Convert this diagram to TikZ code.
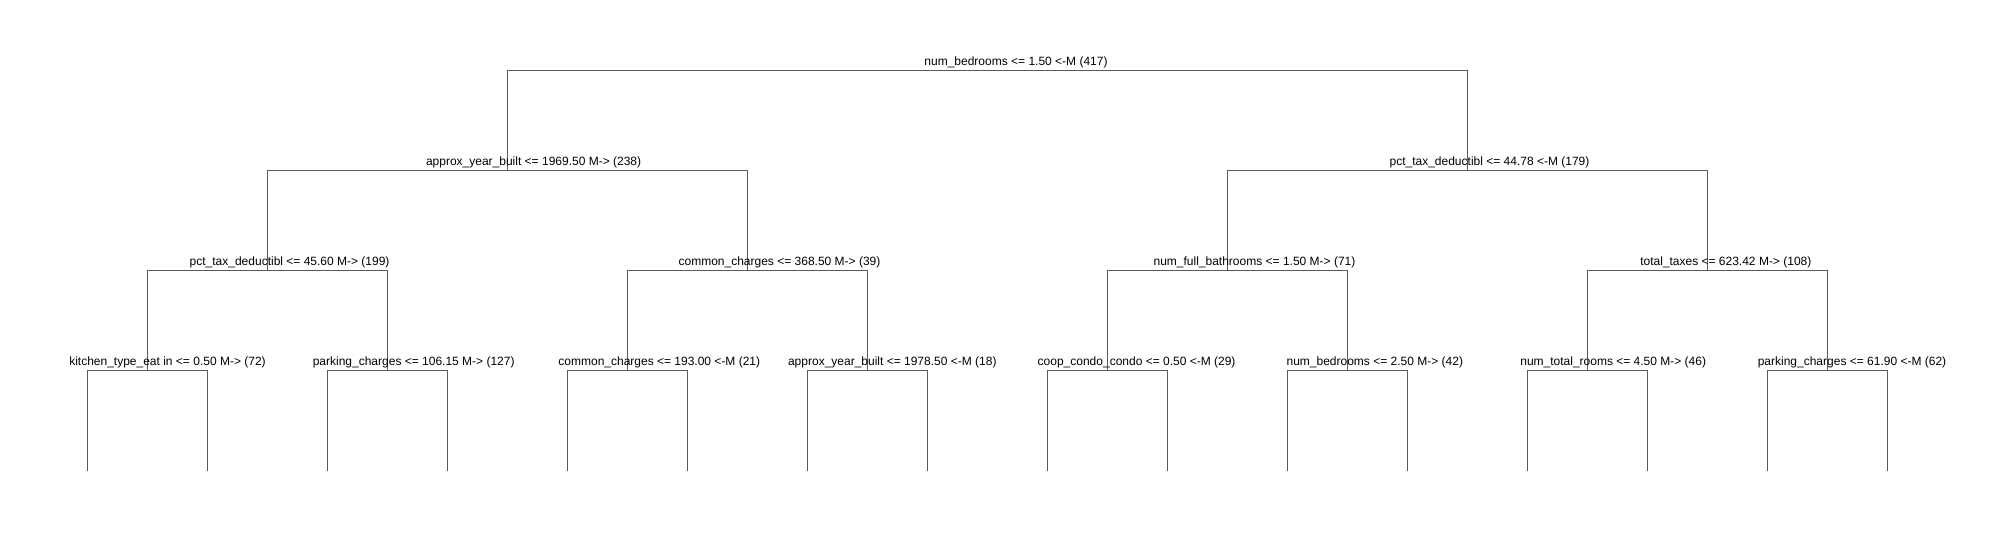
\documentclass[tikz,border=0pt]{standalone}
\usepackage{fontspec}
\setmainfont{Liberation Sans}
\definecolor{edgegray}{RGB}{90,90,90}
\begin{document}
\begin{tikzpicture}[x=1bp,y=-1bp,
  edge/.style={draw=edgegray,line width=1bp},
  lbl/.style={anchor=base,inner sep=0pt,outer sep=0pt,font=\fontsize{12bp}{14bp}\selectfont}]
\useasboundingbox (0,0) rectangle (2016,540);
% tree node positions
\coordinate (n0) at (987.5,70.5);
\coordinate (n1) at (507.5,170.5);
\coordinate (n2) at (1467.5,170.5);
\coordinate (n3) at (267.5,270.5);
\coordinate (n4) at (747.5,270.5);
\coordinate (n5) at (1227.5,270.5);
\coordinate (n6) at (1707.5,270.5);
\coordinate (n7) at (147.5,370.5);
\coordinate (n8) at (387.5,370.5);
\coordinate (n9) at (627.5,370.5);
\coordinate (n10) at (867.5,370.5);
\coordinate (n11) at (1107.5,370.5);
\coordinate (n12) at (1347.5,370.5);
\coordinate (n13) at (1587.5,370.5);
\coordinate (n14) at (1827.5,370.5);
\foreach \i in {0,...,15}{\coordinate (f\i) at ({87.5+120*\i},470.5);}
% connectors
\path[edge] (n1) |- (n0) -| (n2);
\path[edge] (n3) |- (n1) -| (n4);
\path[edge] (n5) |- (n2) -| (n6);
\path[edge] (n7) |- (n3) -| (n8);
\path[edge] (n9) |- (n4) -| (n10);
\path[edge] (n11) |- (n5) -| (n12);
\path[edge] (n13) |- (n6) -| (n14);
\path[edge] (f0) |- (n7) -| (f1);
\path[edge] (f2) |- (n8) -| (f3);
\path[edge] (f4) |- (n9) -| (f5);
\path[edge] (f6) |- (n10) -| (f7);
\path[edge] (f8) |- (n11) -| (f9);
\path[edge] (f10) |- (n12) -| (f11);
\path[edge] (f12) |- (n13) -| (f13);
\path[edge] (f14) |- (n14) -| (f15);
% labels
\node[lbl] (t0) at (1016,66) {num\_bedrooms <= 1.50 <-M (417)};
\node[lbl] (t1) at (533.6,166) {approx\_year\_built <= 1969.50 M-> (238)};
\node[lbl] (t2) at (1489.5,166) {pct\_tax\_deductibl <= 44.78 <-M (179)};
\node[lbl] (t3) at (289.6,266) {pct\_tax\_deductibl <= 45.60 M-> (199)};
\node[lbl] (t4) at (779.5,266) {common\_charges <= 368.50 M-> (39)};
\node[lbl] (t5) at (1254.5,266) {num\_full\_bathrooms <= 1.50 M-> (71)};
\node[lbl] (t6) at (1725.8,266) {total\_taxes <= 623.42 M-> (108)};
\node[lbl] (t7) at (167.5,366) {kitchen\_type\_eat in <= 0.50 M-> (72)};
\node[lbl] (t8) at (413.7,366) {parking\_charges <= 106.15 M-> (127)};
\node[lbl] (t9) at (659.3,366) {common\_charges <= 193.00 <-M (21)};
\node[lbl] (t10) at (892.3,366) {approx\_year\_built <= 1978.50 <-M (18)};
\node[lbl] (t11) at (1136.6,366) {coop\_condo\_condo <= 0.50 <-M (29)};
\node[lbl] (t12) at (1374.8,366) {num\_bedrooms <= 2.50 M-> (42)};
\node[lbl] (t13) at (1613.2,366) {num\_total\_rooms <= 4.50 M-> (46)};
\node[lbl] (t14) at (1852,366) {parking\_charges <= 61.90 <-M (62)};
\end{tikzpicture}
\end{document}
